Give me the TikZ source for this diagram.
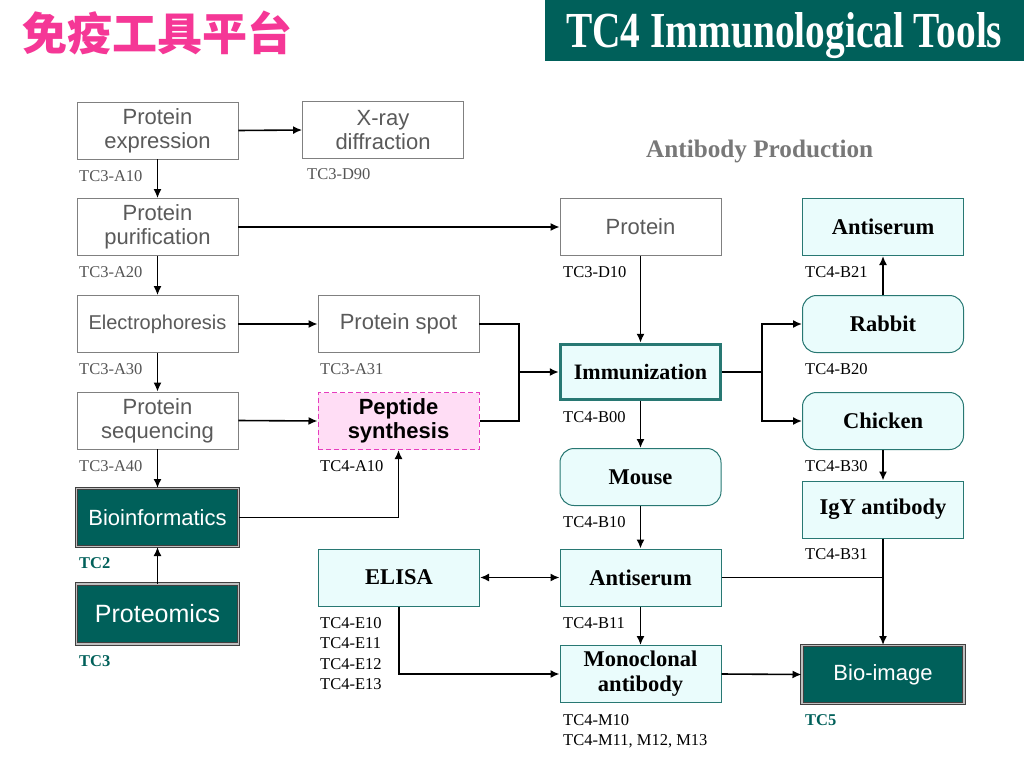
\documentclass[tikz,border=0pt]{standalone}
\usepackage{fontspec}
\usepackage{graphicx}
\setmainfont{Liberation Serif}
\setsansfont{Liberation Sans}
\newfontfamily\cjk{Noto Sans CJK SC}
\usetikzlibrary{arrows.meta}
\definecolor{tealdark}{RGB}{0,96,90}
\definecolor{cyanfill}{RGB}{234,252,252}
\definecolor{cyanline}{RGB}{40,120,115}
\definecolor{boxgray}{RGB}{128,128,128}
\definecolor{txtgray}{RGB}{90,90,90}
\definecolor{labgray}{RGB}{85,85,85}
\definecolor{pinkfill}{RGB}{255,221,245}
\definecolor{pinkline}{RGB}{230,60,190}
\definecolor{titlepink}{RGB}{245,55,150}
\definecolor{subgray}{RGB}{120,120,120}
\tikzset{
  basebox/.style={minimum width=161pt, minimum height=57pt, inner sep=0pt, align=center},
  graybox/.style={basebox, draw=boxgray, line width=0.8pt, fill=white, text=txtgray,
    font=\sffamily\fontsize{22}{24}\selectfont},
  pepbox/.style={basebox, draw=pinkline, dash pattern=on 5pt off 3pt, line width=1pt, fill=pinkfill, text=black,
    font=\sffamily\bfseries\fontsize{22}{24}\selectfont},
  cyanbox/.style={basebox, draw=cyanline, line width=1pt, fill=cyanfill, text=black,
    font=\bfseries\fontsize{22.5}{25}\selectfont},
  roundbox/.style={cyanbox, rounded corners=14pt},
  immbox/.style={cyanbox, line width=3.5pt, minimum width=160pt, minimum height=55pt, font=\bfseries\fontsize{22}{24}\selectfont},
  darkbox/.style={basebox, minimum width=162pt, minimum height=58pt, fill=tealdark, draw=black!75,
    line width=1pt, double=gray!50, double distance=1.2pt, text=white,
    font=\sffamily\fontsize{22}{24}\selectfont},
  lab/.style={anchor=west, inner sep=0pt, font=\fontsize{16.5}{18}\selectfont, text=black},
  glab/.style={lab, text=labgray},
  tclab/.style={lab, text=tealdark, font=\bfseries\fontsize{16.5}{18}\selectfont},
  arr/.style={line width=1.6pt, -{Latex[length=9pt,width=8pt]}},
  arrboth/.style={line width=1.6pt, {Latex[length=9pt,width=8pt]}-{Latex[length=9pt,width=8pt]}},
  ln/.style={line width=1.6pt}
}
\begin{document}
\begin{tikzpicture}[x=1pt,y=-1pt]
\useasboundingbox (0,0) rectangle (1024,768);
\fill[white] (0,0) rectangle (1024,768);
% titles
\node[anchor=west, inner sep=0pt, text=titlepink, font=\cjk\bfseries\fontsize{45}{48}\selectfont] (title) at (22,33) {免疫工具平台};
\fill[tealdark] (545,0) rectangle (1024,61);
\node[inner sep=0pt, text=white, anchor=base west] (banner) at (566,48) {\resizebox{436pt}{35pt}{\bfseries TC4 Immunological Tools}};
\node[inner sep=0pt, text=subgray, anchor=base west] (abprod) at (646,157) {\resizebox{227pt}{!}{\fontsize{24}{26}\selectfont\bfseries Antibody Production}};
% left column
\node[graybox] (pexp) at (157.5,130.5) {Protein\\expression};
\node[graybox] (xray) at (383,130) {X-ray\\diffraction};
\node[graybox] (ppur) at (157.5,227) {Protein\\purification};
\node[graybox, font=\sffamily\fontsize{20}{22}\selectfont] (elec) at (157.5,324) {Electrophoresis};
\node[graybox] (pseq) at (157.5,420.5) {Protein\\sequencing};
\node[darkbox] (bioinf) at (157.5,517.5) {Bioinformatics};
\node[darkbox, font=\sffamily\fontsize{25}{27}\selectfont, minimum height=60pt] (prot) at (157.5,614) {Proteomics};
\node[graybox] (pspot) at (398.5,324) {Protein spot};
\node[pepbox] (pep) at (398.5,421) {Peptide\\synthesis};
\node[cyanbox] (elisa) at (399,577.5) {ELISA};
% middle column
\node[graybox] (protm) at (640.5,227) {Protein};
\node[immbox] (immu) at (640.5,372) {Immunization};
\node[roundbox] (mouse) at (640.5,477) {Mouse};
\node[cyanbox] (antim) at (640.5,577.5) {Antiserum};
\node[cyanbox] (mono) at (640.5,674) {Monoclonal\\antibody};
% right column
\node[cyanbox] (antir) at (883,227) {Antiserum};
\node[roundbox] (rabbit) at (883,324) {Rabbit};
\node[roundbox] (chick) at (883,421) {Chicken};
\node[cyanbox] (igy) at (883,509.5) {IgY antibody};
\node[darkbox] (bioimg) at (883,674.5) {Bio-image};
% labels
\node[glab] (l1) at (79,176) {TC3-A10};
\node[glab] (l2) at (307,174) {TC3-D90};
\node[glab] (l3) at (79,272) {TC3-A20};
\node[lab] (l4) at (563,272) {TC3-D10};
\node[lab] (l5) at (805,272) {TC4-B21};
\node[glab] (l6) at (79,369) {TC3-A30};
\node[glab] (l7) at (320,369) {TC3-A31};
\node[lab] (l8) at (805,369) {TC4-B20};
\node[glab] (l9) at (79,466) {TC3-A40};
\node[lab] (l10) at (320,466) {TC4-A10};
\node[lab] (l11) at (563,417) {TC4-B00};
\node[lab] (l12) at (805,466) {TC4-B30};
\node[tclab] (l13) at (79,563) {TC2};
\node[lab] (l14) at (563,522) {TC4-B10};
\node[lab] (l15) at (805,554) {TC4-B31};
\node[lab] (l16) at (320,623) {TC4-E10};
\node[lab] (l17) at (320,643.5) {TC4-E11};
\node[lab] (l18) at (320,664) {TC4-E12};
\node[lab] (l19) at (320,684.5) {TC4-E13};
\node[lab] (l20) at (563,623) {TC4-B11};
\node[tclab] (l21) at (79,661) {TC3};
\node[lab] (l22) at (563,720) {TC4-M10};
\node[lab] (l23) at (563,741) {TC4-M11, M12, M13};
\node[tclab] (l24) at (805,720) {TC5};
% connectors
\draw[arr] (pexp.east) -- (xray.west);
\draw[arr] (pexp) -- (ppur);
\draw[arr] (ppur.east) -- (protm.west);
\draw[arr] (ppur) -- (elec);
\draw[arr] (elec.east) -- (pspot.west);
\draw[arr] (elec) -- (pseq);
\draw[arr] (pseq.east) -- (pep.west);
\draw[arr] (pseq) -- (bioinf);
\draw[arr] (prot) -- (bioinf);
\draw[arr] (bioinf.east) -| (pep.south);
\coordinate (jm) at (519,372);
\draw[ln] (pspot.east) -| (jm);
\draw[ln] (pep.east) -| (jm);
\draw[arr] (jm) -- (immu.west);
\draw[arr] (protm) -- (immu);
\coordinate (js) at (762,372);
\draw[ln] (immu.east) -- (js);
\draw[arr] (js) |- (rabbit.west);
\draw[arr] (js) |- (chick.west);
\draw[arr] (rabbit) -- (antir);
\draw[arr] (chick) -- (igy);
\draw[arr] (immu) -- (mouse);
\draw[arr] (mouse) -- (antim);
\draw[arrboth] (elisa.east) -- (antim.west);
\draw[arr] (antim) -- (mono);
\draw[arr] (elisa.south) |- (mono.west);
\draw[arr] (mono.east) -- (bioimg.west);
\coordinate (jb) at (883,577.5);
\draw[ln] (antim.east) -- (jb);
\draw[arr] (igy) -- (bioimg);
\end{tikzpicture}
\end{document}
